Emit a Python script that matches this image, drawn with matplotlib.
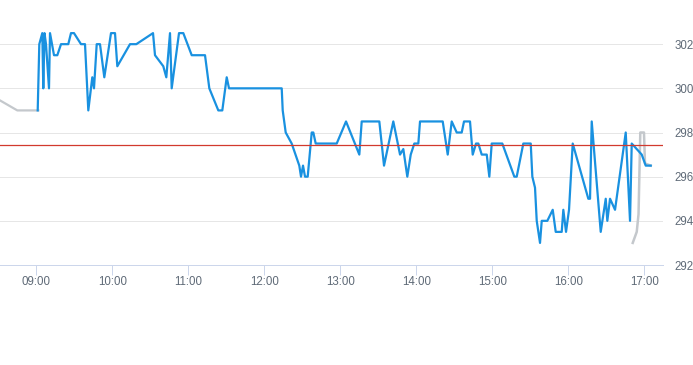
import matplotlib
matplotlib.use("Agg")
import matplotlib.pyplot as plt
import numpy as np

# ---- data ----
blue_times = [
    "09:01:11", "09:02:27", "09:04:49", "09:05:36", "09:06:33", "09:07:44", "09:10:06", "09:10:54",
    "09:14:03", "09:16:40", "09:19:35", "09:25:20", "09:27:28", "09:29:50", "09:35:22", "09:38:32",
    "09:41:08", "09:44:17", "09:45:38", "09:47:46", "09:50:22", "09:53:46", "09:59:03", "10:02:13",
    "10:04:02", "10:14:03", "10:19:02", "10:32:13", "10:33:47", "10:40:20", "10:42:43", "10:45:38",
    "10:46:58", "10:52:44", "10:56:08", "11:02:46", "11:13:16", "11:16:40", "11:23:46", "11:26:55",
    "11:30:24", "11:32:13", "12:13:49", "12:14:36", "12:16:58", "12:21:42", "12:27:42", "12:29:03",
    "12:30:38", "12:32:13", "12:34:20", "12:37:30", "12:38:46", "12:40:39", "12:57:14", "13:04:35",
    "13:15:05", "13:16:58", "13:30:52", "13:34:35", "13:41:55", "13:47:13", "13:49:49", "13:52:58",
    "13:55:40", "13:58:30", "14:01:40", "14:03:00", "14:20:55", "14:24:52", "14:28:02", "14:31:58",
    "14:35:55", "14:37:44", "14:42:28", "14:44:36", "14:47:13", "14:49:02", "14:51:43", "14:55:40",
    "14:57:43", "14:59:36", "15:07:58", "15:17:27", "15:19:20", "15:24:33", "15:30:24", "15:31:40",
    "15:33:47", "15:35:08", "15:37:44", "15:39:05", "15:43:30", "15:47:46", "15:50:08", "15:54:52",
    "15:56:08", "15:58:16", "16:00:38", "16:03:33", "16:15:52", "16:17:13", "16:18:33", "16:25:39",
    "16:29:37", "16:30:52", "16:33:00", "16:36:57", "16:45:24", "16:48:47", "16:50:08", "16:58:02",
    "17:01:11", "17:05:08",
]
blue_values = [
    299.0, 302.0, 302.5, 300.0, 302.5, 302.0, 300.0, 302.5,
    301.5, 301.5, 302.0, 302.0, 302.5, 302.5, 302.0, 302.0,
    299.0, 300.5, 300.0, 302.0, 302.0, 300.5, 302.5, 302.5,
    301.0, 302.0, 302.0, 302.5, 301.5, 301.0, 300.5, 302.5,
    300.0, 302.5, 302.5, 301.5, 301.5, 300.0, 299.0, 299.0,
    300.5, 300.0, 300.0, 299.0, 298.0, 297.5, 296.5, 296.0,
    296.5, 296.0, 296.0, 298.0, 298.0, 297.5, 297.5, 298.5,
    297.0, 298.5, 298.5, 296.5, 298.5, 297.0, 297.25, 296.0,
    297.0, 297.5, 297.5, 298.5, 298.5, 297.0, 298.5, 298.0,
    298.0, 298.5, 298.5, 297.0, 297.5, 297.5, 297.0, 297.0,
    296.0, 297.5, 297.5, 296.0, 296.0, 297.5, 297.5, 296.0,
    295.5, 294.0, 293.0, 294.0, 294.0, 294.5, 293.5, 293.5,
    294.5, 293.5, 294.5, 297.5, 295.0, 295.0, 298.5, 293.5,
    295.0, 294.0, 295.0, 294.5, 298.0, 294.0, 297.5, 297.0,
    296.5, 296.5,
]

grey_start_times = ["08:30:00", "08:45:05", "09:01:40"]
grey_start_values = [299.5, 299.0, 299.0]

grey_end_times = ["16:50:55", "16:54:05", "16:55:30", "16:56:54", "16:59:48", "17:00:36", "17:05:08"]
grey_end_values = [293.0, 293.5, 294.3, 298.0, 298.0, 296.6, 296.5]

reference_level = 297.45

x_tick_labels = ["09:00", "10:00", "11:00", "12:00", "13:00", "14:00", "15:00", "16:00", "17:00"]
y_ticks = [292, 294, 296, 298, 300, 302]


def to_hours(s):
    parts = [int(p) for p in s.split(":")]
    while len(parts) < 3:
        parts.append(0)
    return parts[0] + parts[1] / 60 + parts[2] / 3600


W, H = 693, 365
fig = plt.figure(figsize=(W / 100, H / 100), dpi=100)
ax = fig.add_axes([0, 1 - 265 / H, 663 / W, 265 / H])

label_color = "#5f6a77"
font = "Liberation Sans"
fs = 8.3

ax.plot([to_hours(t) for t in grey_start_times], grey_start_values,
        color="#c4c8cc", lw=1.6, solid_joinstyle="round", zorder=2)
ax.plot([to_hours(t) for t in grey_end_times], grey_end_values,
        color="#c4c8cc", lw=1.8, solid_joinstyle="round", zorder=2)
ax.plot([to_hours(t) for t in blue_times], blue_values,
        color="#1991e0", lw=1.6, solid_joinstyle="round", zorder=3)
ax.axhline(reference_level, color="#d23a2e", lw=0.9, zorder=4)

ax.set_xlim(8.5237, 17.247)
ax.set_ylim(292, 304)

ax.set_xticks([to_hours(t) for t in x_tick_labels])
ax.set_xticklabels(x_tick_labels, fontsize=fs, color=label_color, family=font)
ax.tick_params(axis="x", length=7, width=0.72, color="#ccd6eb", pad=1.2, direction="out")

ax.yaxis.tick_right()
ax.set_yticks(y_ticks)
ax.set_yticklabels([str(v) for v in y_ticks], fontsize=fs, color=label_color, family=font)
ax.tick_params(axis="y", length=0, pad=8)
ax.grid(axis="y", color="#e6e6e6", lw=0.72, zorder=0)
ax.set_axisbelow(True)

for side in ["top", "left", "right"]:
    ax.spines[side].set_visible(False)
ax.spines["bottom"].set_color("#ccd6eb")
ax.spines["bottom"].set_linewidth(0.72)
ax.patch.set_alpha(0)

fig.savefig("out.png", dpi=100)
